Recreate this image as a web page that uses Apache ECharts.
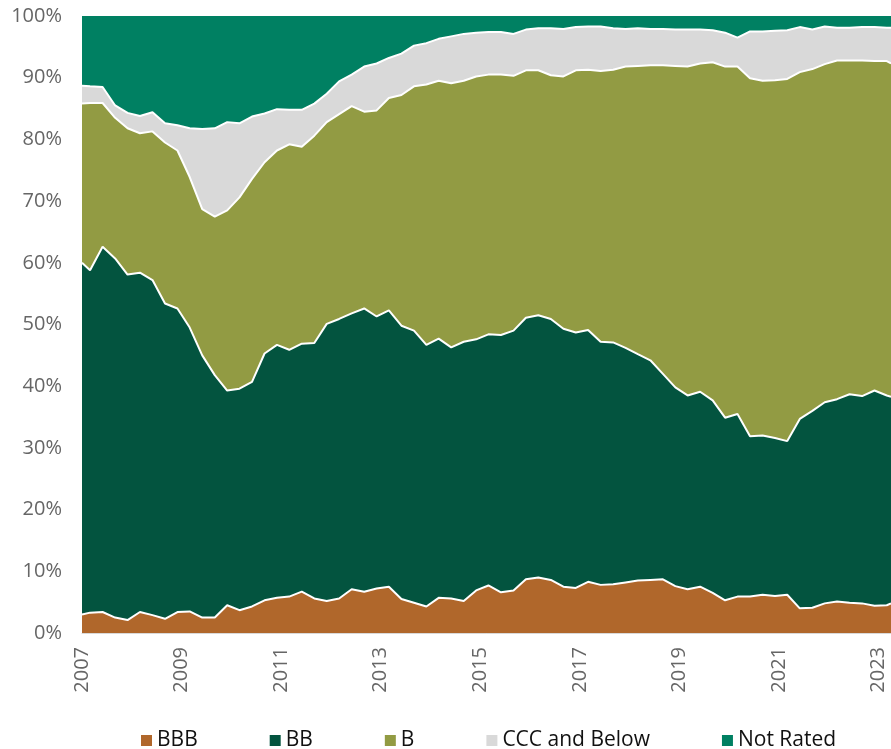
<!DOCTYPE html>
<html>
<head>
<meta charset="utf-8">
<script src="https://cdn.jsdelivr.net/npm/echarts@6/dist/echarts.min.js"></script>
<style>
  html, body { margin: 0; padding: 0; background: #fff; }
  #chart { width: 891px; height: 749px; }
</style>
</head>
<body>
<div id="chart"></div>
<script>
var myChart = echarts.init(document.getElementById('chart'));

// month-end observations
var dates = [
  '2006-12', '2007-02', '2007-05', '2007-08', '2007-11',
  '2008-02', '2008-05', '2008-08', '2008-11',
  '2009-02', '2009-05', '2009-08', '2009-11',
  '2010-02', '2010-05', '2010-08', '2010-11',
  '2011-02', '2011-05', '2011-08', '2011-11',
  '2012-02', '2012-05', '2012-08', '2012-11',
  '2013-02', '2013-05', '2013-08', '2013-11',
  '2014-02', '2014-05', '2014-08', '2014-11',
  '2015-02', '2015-05', '2015-08', '2015-11',
  '2016-02', '2016-05', '2016-08', '2016-11',
  '2017-02', '2017-05', '2017-08', '2017-11',
  '2018-02', '2018-05', '2018-08', '2018-11',
  '2019-02', '2019-05', '2019-08', '2019-11',
  '2020-02', '2020-05', '2020-08', '2020-11',
  '2021-02', '2021-05', '2021-08', '2021-11',
  '2022-02', '2022-05', '2022-08', '2022-11',
  '2023-02', '2023-03'
];

var bbb = [3.0, 3.3, 3.4, 2.5, 2.1, 3.4, 2.9, 2.3, 3.4, 3.5, 2.5, 2.5,
  4.5, 3.7, 4.3, 5.3, 5.7, 5.9, 6.7, 5.6, 5.2, 5.6,
  7.1, 6.7, 7.2, 7.5, 5.5, 4.9, 4.3, 5.7, 5.6, 5.2,
  6.9, 7.7, 6.6, 6.9, 8.7, 9.0, 8.6, 7.5, 7.3, 8.3,
  7.8, 7.9, 8.2, 8.5, 8.6, 8.7, 7.6, 7.1, 7.5, 6.5,
  5.3, 5.9, 5.9, 6.2, 6.0, 6.2, 4.0, 4.1, 4.8, 5.1,
  4.9, 4.8, 4.4, 4.5, 4.8];

var bb = [57.0, 55.5, 59.2, 58.2, 56.0, 55.0, 54.3, 51.1, 49.2, 46.0, 42.5, 39.3,
  34.8, 35.9, 36.4, 40.0, 41.0, 40.0, 40.2, 41.4, 44.9, 45.3,
  44.7, 45.9, 44.1, 44.8, 44.3, 44.1, 42.4, 42.0, 40.7, 42.0,
  40.7, 40.7, 41.7, 42.1, 42.4, 42.5, 42.3, 41.8, 41.4, 40.8,
  39.4, 39.2, 38.0, 36.7, 35.6, 33.3, 32.2, 31.4, 31.6, 31.2,
  29.6, 29.6, 26.0, 25.8, 25.6, 24.9, 30.7, 31.9, 32.6, 32.8,
  33.8, 33.6, 34.9, 34.0, 33.5];

var b = [25.8, 27.1, 23.3, 22.8, 23.7, 22.6, 24.1, 26.1, 25.6, 24.4, 23.7, 25.7,
  29.2, 31.0, 32.9, 31.0, 31.5, 33.3, 31.9, 33.6, 32.7, 33.2,
  33.6, 31.9, 33.4, 34.4, 37.4, 39.6, 42.2, 41.8, 42.8, 42.3,
  42.6, 42.1, 42.2, 41.3, 40.1, 39.7, 39.5, 40.9, 42.5, 42.2,
  43.9, 44.2, 45.6, 46.7, 47.8, 50.0, 52.1, 53.3, 53.2, 54.8,
  56.9, 56.3, 58.0, 57.5, 58.0, 58.7, 56.2, 55.4, 54.8, 54.9,
  54.1, 54.4, 53.4, 54.2, 54.0];

var ccc = [2.9, 2.7, 2.6, 2.0, 2.5, 2.8, 3.1, 3.1, 4.1, 7.9, 13.0, 14.3,
  14.3, 12.0, 10.1, 7.9, 6.7, 5.6, 6.0, 5.2, 4.6, 5.3,
  5.1, 7.3, 7.6, 6.5, 6.7, 6.6, 6.7, 6.8, 7.6, 7.6,
  7.1, 6.9, 6.9, 6.8, 6.6, 6.8, 7.6, 7.7, 7.0, 7.0,
  7.2, 6.7, 6.1, 6.1, 5.9, 5.9, 5.9, 6.0, 5.5, 5.2,
  5.5, 4.7, 7.6, 8.0, 8.0, 7.9, 7.3, 6.4, 6.1, 5.3,
  5.3, 5.4, 5.5, 5.4, 5.8];

var nr = [11.3, 11.4, 11.5, 14.5, 15.7, 16.2, 15.6, 17.4, 17.7, 18.2, 18.3, 18.2,
  17.2, 17.4, 16.3, 15.8, 15.1, 15.2, 15.2, 14.2, 12.6, 10.6,
  9.5, 8.2, 7.7, 6.8, 6.1, 4.8, 4.4, 3.7, 3.3, 2.9,
  2.7, 2.6, 2.6, 2.9, 2.2, 2.0, 2.0, 2.1, 1.8, 1.7,
  1.7, 2.0, 2.1, 2.0, 2.1, 2.1, 2.2, 2.2, 2.2, 2.3,
  2.7, 3.5, 2.5, 2.5, 2.4, 2.3, 1.8, 2.2, 1.7, 1.9,
  1.9, 1.8, 1.8, 1.9, 1.9];

var names = ['BBB', 'BB', 'B', 'CCC and Below', 'Not Rated'];
var COLORS = ['#b0672b', '#03543f', '#929b43', '#d9d9d9', '#008062'];

// 'YYYY-MM' -> end of that month (= first day of next month)
function monthEnd(d) {
  var p = d.split('-');
  return new Date(parseInt(p[0]), parseInt(p[1]), 1).getTime();
}

function makeSeries(name, values, idx) {
  return {
    name: name,
    type: 'line',
    stack: 'total',
    xAxisIndex: 0,
    symbol: 'none',
    color: COLORS[idx],
    lineStyle: { color: '#fff', width: idx === 4 ? 0 : 2 },
    areaStyle: { color: COLORS[idx], opacity: 1 },
    emphasis: { disabled: true },
    data: dates.map(function (d, i) { return [monthEnd(d), values[i]]; })
  };
}

var option = {
  animation: false,
  grid: { left: 82, right: 0, top: 16, bottom: 116 },
  legend: {
    data: names.map(function (n) {
      return n === 'CCC and Below' ? { name: n, textStyle: { width: 156 } } : { name: n };
    }),
    left: 136,
    top: 725,
    icon: 'rect',
    itemWidth: 11,
    itemHeight: 11,
    itemGap: 72,
    itemStyle: { borderWidth: 0 },
    textStyle: { fontFamily: 'Open Sans', fontSize: 21, color: '#111' }
  },
  xAxis: [{
    // data axis
    type: 'time',
    position: 'bottom',
    min: new Date(2007, 0, 1).getTime(),
    max: monthEnd('2023-03'),
    axisLine: { show: true, lineStyle: { color: '#d9d9d9' } },
    axisTick: { show: false },
    axisLabel: { show: false },
    splitLine: { show: false }
  }, {
    // year labels, every two years
    type: 'value',
    position: 'bottom',
    offset: 0,
    min: 2007,
    max: 2023.25,
    interval: 2,
    axisLine: { show: false },
    axisTick: { show: false },
    splitLine: { show: false },
    axisLabel: {
      rotate: 90,
      margin: 14,
      fontFamily: 'Open Sans',
      fontSize: 20,
      color: '#666',
      showMaxLabel: false,
      formatter: function (v) { return Number.isInteger(v) ? String(v) : ''; }
    }
  }],
  yAxis: {
    type: 'value',
    min: 0,
    max: 100,
    interval: 10,
    axisLine: { show: false },
    axisTick: { show: false },
    splitLine: { lineStyle: { color: '#d9d9d9' } },
    axisLabel: {
      formatter: '{value}%',
      margin: 20,
      fontFamily: 'Open Sans',
      fontSize: 20,
      color: '#666'
    }
  },
  series: [
    makeSeries(names[0], bbb, 0),
    makeSeries(names[1], bb, 1),
    makeSeries(names[2], b, 2),
    makeSeries(names[3], ccc, 3),
    makeSeries(names[4], nr, 4)
  ]
};

myChart.setOption(option);
</script>
</body>
</html>
